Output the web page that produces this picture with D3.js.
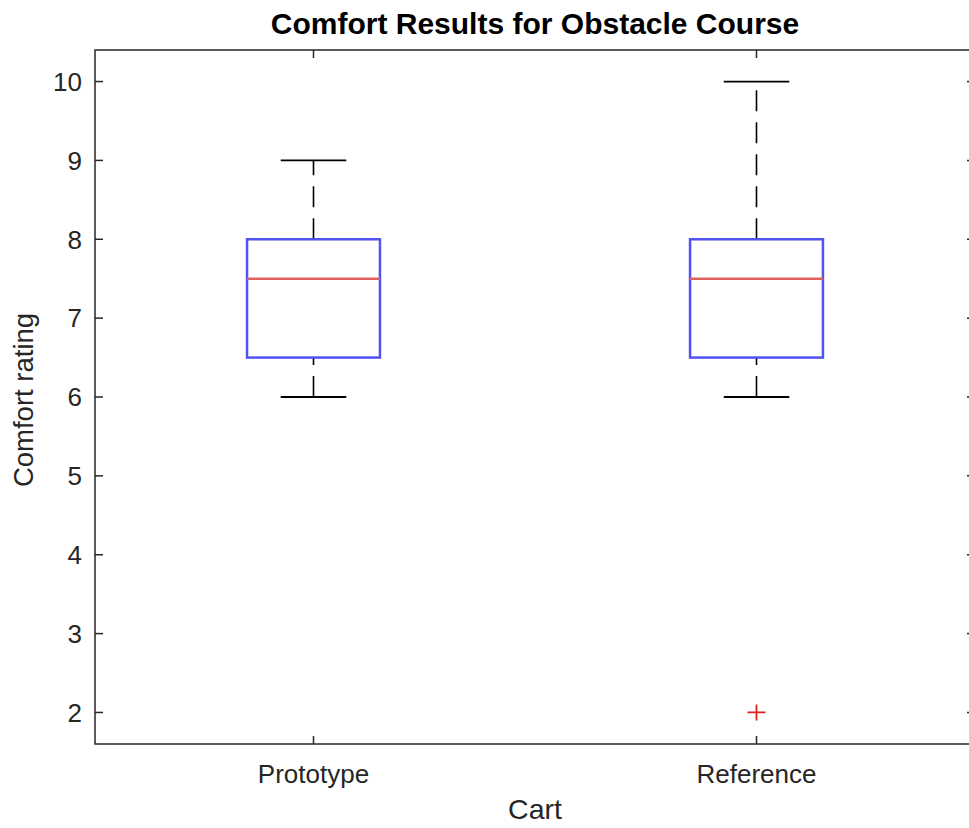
<!DOCTYPE html>
<html>
<head>
<meta charset="utf-8">
<script src="https://cdn.jsdelivr.net/npm/d3@7"></script>
<style>
  body { margin: 0; background: #fff; overflow: hidden; }
  svg { display: block; overflow: hidden; }
  svg text { font-family: "Liberation Sans", Arial, Helvetica, sans-serif; }
</style>
</head>
<body>
<svg id="chart" width="969" height="828"></svg>
<script>
// box statistics
const carts = ['Prototype', 'Reference'];
const lowerWhisker = [6, 6];
const q1 = [6.5, 6.5];
const medians = [7.5, 7.5];
const q3 = [8, 8];
const upperWhisker = [9, 10];
const outliers = [[], [2]];
const yTicks = [2, 3, 4, 5, 6, 7, 8, 9, 10];

const svg = d3.select('#chart');
const plotLeft = 95, plotRight = 975, plotTop = 50, plotBottom = 744;
const ink = '#262626';

const x = d3.scaleLinear().domain([0.5, 2.5]).range([plotLeft - 3, plotRight + 3]);
const y = d3.scaleLinear().domain([1.6, 10.4]).range([plotBottom, plotTop]);

const boxHalf = 0.15;
const capHalf = 0.074;

// frame
svg.append('rect')
  .attr('x', plotLeft).attr('y', plotTop)
  .attr('width', plotRight - plotLeft).attr('height', plotBottom - plotTop)
  .attr('fill', 'none').attr('stroke', ink).attr('stroke-width', 1.5);

// y ticks, both sides, pointing in
const tickLen = 8;
const yt = svg.append('g');
yTicks.forEach(t => {
  yt.append('line')
    .attr('x1', plotLeft).attr('x2', plotLeft + tickLen)
    .attr('y1', y(t)).attr('y2', y(t))
    .attr('stroke', ink).attr('stroke-width', 1.5);
  yt.append('line')
    .attr('x1', plotRight).attr('x2', plotRight - tickLen)
    .attr('y1', y(t)).attr('y2', y(t))
    .attr('stroke', ink).attr('stroke-width', 1.5);
  yt.append('text')
    .attr('x', plotLeft - 13).attr('y', y(t))
    .attr('dy', '0.36em')
    .attr('text-anchor', 'end')
    .attr('font-size', 26)
    .attr('fill', ink)
    .text(t);
});

// x ticks top and bottom
const xt = svg.append('g');
carts.forEach((c, i) => {
  const cx = x(i + 1);
  xt.append('line')
    .attr('x1', cx).attr('x2', cx)
    .attr('y1', plotBottom).attr('y2', plotBottom - tickLen)
    .attr('stroke', ink).attr('stroke-width', 1.5);
  xt.append('line')
    .attr('x1', cx).attr('x2', cx)
    .attr('y1', plotTop).attr('y2', plotTop + tickLen)
    .attr('stroke', ink).attr('stroke-width', 1.5);
  xt.append('text')
    .attr('x', cx).attr('y', 783)
    .attr('text-anchor', 'middle')
    .attr('font-size', 26)
    .attr('fill', ink)
    .text(c);
});

// boxes
const boxes = svg.append('g');
carts.forEach((c, i) => {
  const p = i + 1;
  // whiskers are drawn from the low value upwards
  [[lowerWhisker[i], q1[i]], [q3[i], upperWhisker[i]]].forEach(([a, b]) => {
    boxes.append('line')
      .attr('x1', x(p)).attr('x2', x(p))
      .attr('y1', y(a)).attr('y2', y(b))
      .attr('stroke', '#000').attr('stroke-width', 1.6)
      .attr('stroke-dasharray', '21 11');
  });
  [lowerWhisker[i], upperWhisker[i]].forEach(v => {
    boxes.append('line')
      .attr('x1', x(p - capHalf)).attr('x2', x(p + capHalf))
      .attr('y1', y(v)).attr('y2', y(v))
      .attr('stroke', '#000').attr('stroke-width', 1.8);
  });
  boxes.append('rect')
    .attr('x', x(p - boxHalf)).attr('y', y(q3[i]))
    .attr('width', x(p + boxHalf) - x(p - boxHalf))
    .attr('height', y(q1[i]) - y(q3[i]))
    .attr('fill', 'none')
    .attr('stroke', '#5252f2').attr('stroke-width', 2.5);
  boxes.append('line')
    .attr('x1', x(p - boxHalf)).attr('x2', x(p + boxHalf))
    .attr('y1', y(medians[i])).attr('y2', y(medians[i]))
    .attr('stroke', '#e06060').attr('stroke-width', 2.6);
  outliers[i].forEach(v => {
    boxes.append('path')
      .attr('d', `M${x(p) - 9},${y(v)}H${x(p) + 9}M${x(p)},${y(v) - 8}V${y(v) + 8}`)
      .attr('stroke', '#e01e1e').attr('stroke-width', 1.8)
      .attr('fill', 'none');
  });
});

// title and labels
svg.append('text')
  .attr('x', (plotLeft + plotRight) / 2).attr('y', 34)
  .attr('text-anchor', 'middle')
  .attr('font-size', 30).attr('font-weight', 'bold')
  .attr('fill', '#000')
  .text('Comfort Results for Obstacle Course');

svg.append('text')
  .attr('x', (plotLeft + plotRight) / 2).attr('y', 819)
  .attr('text-anchor', 'middle')
  .attr('font-size', 28.5)
  .attr('fill', ink)
  .text('Cart');

svg.append('text')
  .attr('transform', `translate(33,400) rotate(-90)`)
  .attr('text-anchor', 'middle')
  .attr('font-size', 27.5)
  .attr('fill', ink)
  .text('Comfort rating');
</script>
</body>
</html>
